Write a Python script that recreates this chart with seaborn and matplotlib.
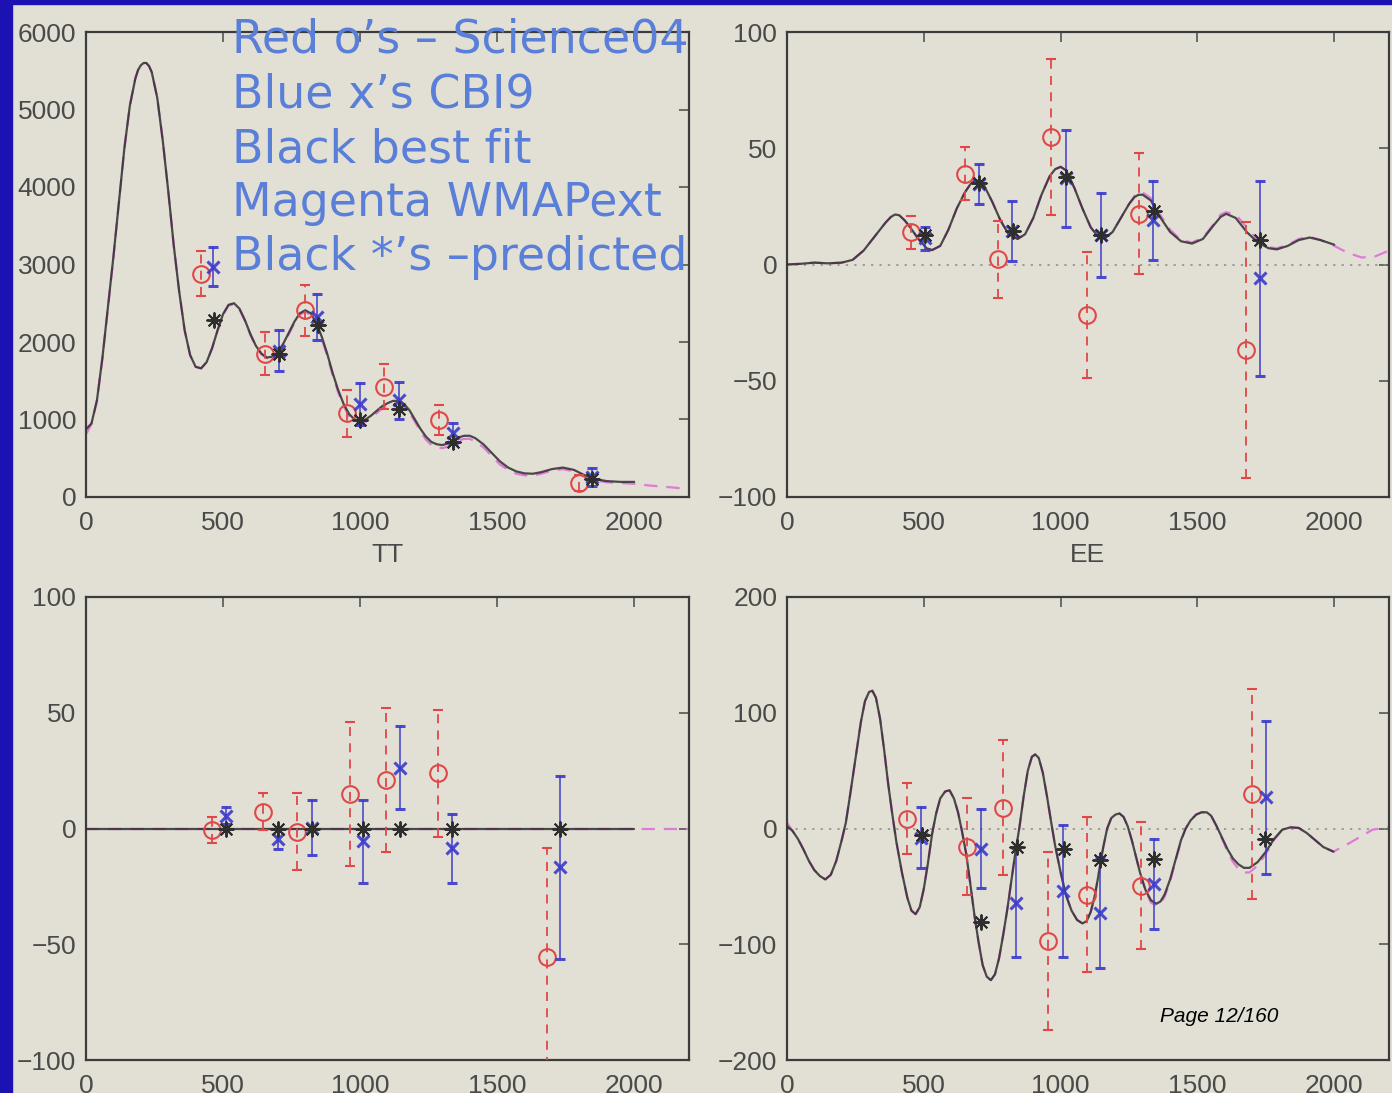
import numpy as np
import pandas as pd
import matplotlib
matplotlib.use("Agg")
import matplotlib.pyplot as plt
from matplotlib.patches import Rectangle
import seaborn as sns

# ---------------- data ----------------
# TT theory curves
tt_fit_ell = [2, 20, 40, 60, 80, 100, 120, 140, 160, 180, 190, 200, 210, 220, 230, 240, 260, 280, 300, 320, 340,
              360, 380, 400, 420, 440, 460, 480, 500, 520, 540, 560, 580, 600, 620, 640, 660, 680, 700, 720, 740,
              760, 780, 800, 820, 840, 860, 880, 900, 920, 940, 960, 980, 1000, 1020, 1040, 1060, 1080, 1100,
              1120, 1140, 1160, 1180, 1200, 1220, 1240, 1260, 1280, 1300, 1320, 1340, 1360, 1380, 1400, 1420,
              1450, 1480, 1510, 1540, 1570, 1600, 1630, 1660, 1700, 1740, 1780, 1820, 1860, 1900, 1950, 2000]
tt_fit_val = [880, 950, 1250, 1800, 2450, 3100, 3800, 4500, 5050, 5400, 5510, 5570, 5600, 5600, 5560, 5480,
              5150, 4600, 3950, 3250, 2650, 2150, 1830, 1680, 1660, 1740, 1920, 2150, 2360, 2480, 2500, 2430,
              2280, 2100, 1950, 1850, 1800, 1810, 1870, 1980, 2120, 2260, 2370, 2410, 2370, 2250, 2070, 1850,
              1600, 1380, 1200, 1070, 1000, 980, 1000, 1050, 1110, 1170, 1210, 1240, 1240, 1200, 1120, 1000,
              880, 780, 710, 680, 670, 690, 730, 770, 790, 790, 760, 680, 570, 460, 380, 330, 305, 300, 320,
              360, 380, 350, 280, 230, 205, 195, 195]
tt_wmap_ell = [2, 20, 40, 60, 80, 100, 120, 140, 160, 180, 190, 200, 210, 220, 230, 240, 260, 280, 300, 320, 340,
               360, 380, 400, 420, 440, 460, 480, 500, 520, 540, 560, 580, 600, 620, 640, 660, 680, 700, 720, 740,
               760, 780, 800, 820, 840, 860, 880, 900, 920, 940, 960, 980, 1000, 1020, 1040, 1060, 1080, 1100,
               1120, 1140, 1160, 1180, 1200, 1220, 1240, 1260, 1280, 1300, 1320, 1340, 1360, 1380, 1400, 1420,
               1450, 1480, 1510, 1540, 1570, 1600, 1630, 1660, 1700, 1740, 1780, 1820, 1860, 1900, 1950, 2000,
               2050, 2100, 2150, 2200]
tt_wmap_val = [820, 940, 1240, 1790, 2440, 3090, 3800, 4500, 5050, 5400, 5510, 5570, 5600, 5600, 5560, 5480,
               5150, 4600, 3950, 3250, 2650, 2150, 1830, 1680, 1660, 1740, 1920, 2150, 2350, 2470, 2490, 2420,
               2270, 2090, 1940, 1840, 1790, 1800, 1860, 1960, 2100, 2240, 2350, 2390, 2350, 2230, 2040, 1820,
               1570, 1350, 1170, 1040, 970, 950, 970, 1020, 1080, 1140, 1180, 1210, 1210, 1170, 1090, 970, 850,
               740, 670, 640, 630, 650, 690, 730, 750, 750, 720, 640, 530, 420, 350, 300, 280, 275, 300, 340,
               360, 330, 265, 215, 190, 180, 170, 150, 135, 120, 100]

tt_red_ell = [420, 653, 798, 954, 1087, 1289, 1798]
tt_red_val = [2880, 1850, 2410, 1080, 1420, 990, 180]
tt_red_err = [290, 280, 330, 300, 290, 195, 100]
tt_blue_ell = [465, 704, 841, 1000, 1142, 1340, 1846]
tt_blue_val = [2970, 1890, 2320, 1200, 1250, 820, 260]
tt_blue_err = [250, 270, 300, 270, 240, 140, 120]
tt_pred_ell = [468, 704, 845, 1000, 1142, 1340, 1846]
tt_pred_val = [2290, 1850, 2215, 990, 1140, 710, 237]

# EE
ee_fit_ell = [0, 50, 100, 150, 200, 240, 280, 320, 360, 380, 395, 410, 430, 450, 480, 510, 530, 560, 590, 620,
              650, 670, 685, 700, 720, 750, 780, 810, 843, 870, 900, 930, 960, 980, 1000, 1020, 1050, 1080, 1110,
              1140, 1160, 1190, 1220, 1250, 1270, 1285, 1300, 1330, 1360, 1400, 1440, 1480, 1520, 1560, 1585,
              1605, 1640, 1680, 1720, 1760, 1790, 1830, 1870, 1910, 1950, 2000]
ee_fit_val = [0, 0.3, 0.8, 0.5, 0.8, 2, 6, 12, 18, 20.5, 21.5, 21.2, 19, 16, 11, 7, 6.2, 8, 15, 24, 31, 34.5,
              36, 36, 34, 27, 19, 13, 11, 13, 20, 30, 38, 41, 42, 40.5, 33, 24, 16, 11.5, 11.2, 14, 20, 26, 29,
              30, 30, 27.5, 21, 14, 10, 9, 11, 17, 20.5, 21.8, 20, 14, 9.5, 7, 6.5, 8, 10.5, 11.6, 10.5, 8.5]
ee_wmap_ell = [0, 50, 100, 150, 200, 240, 280, 320, 360, 380, 395, 410, 430, 450, 480, 510, 530, 560, 590, 620,
               650, 670, 685, 700, 720, 750, 780, 810, 843, 870, 900, 930, 960, 980, 1000, 1020, 1050, 1080, 1110,
               1140, 1160, 1190, 1220, 1250, 1270, 1285, 1300, 1330, 1360, 1400, 1440, 1480, 1520, 1560, 1585,
               1605, 1640, 1680, 1720, 1760, 1790, 1830, 1870, 1910, 1950, 2000, 2050, 2100, 2150, 2200]
ee_wmap_val = [0, 0.3, 0.8, 0.5, 0.8, 2, 6, 12, 18, 20.5, 21.5, 21.2, 19, 16, 11, 7, 6.2, 8, 15, 24, 31, 34.5,
               36, 36, 34, 27, 19, 13, 11, 13, 20, 30, 38, 41, 42, 40.5, 33, 24, 16, 11.5, 11.2, 14, 20, 26, 29.5,
               31, 31, 28.5, 22, 15, 10.5, 9.5, 11.5, 17.5, 21.5, 22.5, 21.5, 16, 10.5, 7.5, 7, 8.5, 11, 12,
               10.5, 8, 5, 3, 3.5, 6]

ee_red_ell = [452, 651, 772, 965, 1097, 1285, 1677]
ee_red_val = [13.8, 39.1, 2.3, 54.9, -21.8, 21.9, -36.8]
ee_red_err = [7, 11.5, 16.5, 33.5, 27, 26, 55]
ee_blue_ell = [504, 701, 822, 1019, 1147, 1338, 1727]
ee_blue_val = [11.2, 34.8, 14.3, 37, 12.6, 19, -6]
ee_blue_err = [5, 8.6, 13, 21, 18, 17, 42]
ee_pred_ell = [504, 701, 825, 1019, 1147, 1343, 1727]
ee_pred_val = [12.6, 35.1, 14.3, 37.7, 12.6, 23.1, 10.5]

# TB (zero model)
tb_fit_ell = [0, 2000]
tb_fit_val = [0, 0]
tb_wmap_ell = [0, 2200]
tb_wmap_val = [0, 0]
tb_red_ell = [459, 645, 769, 964, 1094, 1284, 1681]
tb_red_val = [-0.6, 7.3, -1.3, 14.8, 21, 23.9, -55.5]
tb_red_err = [5.5, 8, 16.5, 31, 31, 27.5, 47]
tb_blue_ell = [509, 700, 825, 1011, 1147, 1335, 1731]
tb_blue_val = [5.5, -4.6, 0.4, -5.6, 26.3, -8.6, -16.8]
tb_blue_err = [3.6, 4.3, 11.7, 18, 18, 15, 39.5]
tb_pred_ell = [509, 700, 825, 1011, 1147, 1335, 1731]
tb_pred_val = [0, 0, 0, 0, 0, 0, 0]

# TE
te_fit_ell = [0, 20, 40, 60, 80, 100, 120, 140, 160, 180, 200, 215, 230, 250, 270, 285, 300, 312, 325, 340, 355,
              370, 385, 400, 420, 440, 455, 470, 485, 500, 515, 530, 545, 560, 578, 594, 610, 625, 640, 655, 670,
              685, 700, 715, 730, 745, 760, 775, 790, 805, 820, 835, 850, 865, 880, 895, 907, 920, 935, 950, 965,
              980, 1000, 1020, 1040, 1060, 1080, 1095, 1110, 1125, 1140, 1155, 1170, 1185, 1200, 1215, 1230,
              1245, 1260, 1275, 1290, 1310, 1330, 1350, 1365, 1380, 1400, 1420, 1440, 1457, 1475, 1495, 1515,
              1534, 1550, 1570, 1590, 1610, 1630, 1650, 1670, 1690, 1720, 1750, 1780, 1810, 1840, 1870, 1900,
              1930, 1960, 1997]
te_fit_val = [2, -2, -9, -18, -28, -36, -41, -44, -40, -28, -10, 5, 28, 60, 92, 110, 118, 119, 113, 95, 68, 38,
              12, -12, -38, -60, -71, -74, -68, -52, -30, -5, 13, 26, 32, 33, 26, 14, -3, -22, -48, -75, -98,
              -118, -128, -131, -126, -112, -92, -70, -45, -20, 2, 28, 50, 62, 64, 61, 48, 28, 6, -15, -38, -58,
              -71, -79, -82, -80, -72, -58, -38, -17, 0, 9, 12, 13, 10, 2, -10, -24, -38, -53, -62, -65, -63,
              -57, -44, -27, -10, 0, 7, 12, 14, 14, 11, 2, -8, -18, -26, -31, -34, -34, -29, -20, -9, -1, 1,
              0.5, -4, -10, -16, -20]
te_wmap_ell = [0, 20, 40, 60, 80, 100, 120, 140, 160, 180, 200, 215, 230, 250, 270, 285, 300, 312, 325, 340, 355,
               370, 385, 400, 420, 440, 455, 470, 485, 500, 515, 530, 545, 560, 578, 594, 610, 625, 640, 655, 670,
               685, 700, 715, 730, 745, 760, 775, 790, 805, 820, 835, 850, 865, 880, 895, 907, 920, 935, 950, 965,
               980, 1000, 1020, 1040, 1060, 1080, 1095, 1110, 1125, 1140, 1155, 1170, 1185, 1200, 1215, 1230,
               1245, 1260, 1275, 1290, 1310, 1330, 1350, 1365, 1380, 1400, 1420, 1440, 1457, 1475, 1495, 1515,
               1534, 1550, 1570, 1590, 1610, 1630, 1650, 1670, 1690, 1720, 1750, 1780, 1810, 1840, 1870, 1900,
               1930, 1960, 1997, 2060, 2140, 2200]
te_wmap_val = [5, -2, -9, -18, -28, -36, -41, -44, -40, -28, -10, 5, 28, 60, 92, 110, 118, 119, 113, 95, 68, 38,
               12, -12, -38, -60, -71, -74, -68, -52, -30, -5, 13, 26, 32, 33, 26, 14, -3, -22, -48, -75, -98,
               -118, -128, -131, -126, -112, -92, -70, -45, -20, 2, 28, 50, 62, 64, 61, 48, 28, 6, -15, -38, -58,
               -71, -79, -82, -80, -72, -58, -38, -17, 0, 9, 12, 13, 10, 2, -10, -24, -38, -54, -64, -67, -65,
               -59, -46, -28, -11, 0, 7, 12, 14, 14, 11, 2, -9, -20, -29, -35, -38, -38, -32, -22, -10, -1, 1,
               0.5, -4, -10, -16, -20, -12, -1, 1]
te_red_ell = [437, 658, 789, 955, 1097, 1292, 1701]
te_red_val = [8.6, -15.6, 18.1, -97, -57.3, -49.5, 29.7]
te_red_err = [31, 42, 58, 77, 67, 55, 91]
te_blue_ell = [490, 708, 836, 1007, 1145, 1342, 1752]
te_blue_val = [-7.8, -17.3, -64, -53.9, -72.6, -48, 26.8]
te_blue_err = [26.5, 34.5, 47, 57, 48, 39, 66]
te_pred_ell = [494, 708, 841, 1011, 1145, 1342, 1748]
te_pred_val = [-5.8, -80.6, -16.4, -17.3, -27.4, -26.5, -9.2]

legend_lines = ["Red o\u2019s \u2013 Science04", "Blue x\u2019s CBI9", "Black best fit",
                "Magenta WMAPext", "Black *\u2019s \u2013predicted"]
x_ticks = [0, 500, 1000, 1500, 2000]
tt_yticks = [0, 1000, 2000, 3000, 4000, 5000, 6000]
ee_yticks = [-100, -50, 0, 50, 100]
tb_yticks = [-100, -50, 0, 50, 100]
te_yticks = [-200, -100, 0, 100, 200]

# ---------------- style ----------------
BG = "#e2e0d5"
RED = "#e04848"
BLUE = "#3a3acc"
BLACK = "#2e2e2e"
MAG = "#e07ad8"
TXT = "#4a4a4a"

sns.set_theme(style="white")
plt.rcParams["font.family"] = ["Liberation Sans", "DejaVu Sans"]
plt.rcParams["axes.unicode_minus"] = True
plt.rcParams["lines.solid_joinstyle"] = "round"

fig = plt.figure(figsize=(13.92, 10.93), dpi=100, facecolor=BG)
W, H = 1392, 1093


def add_ax(x0, y0, x1, y1):
    return fig.add_axes([x0 / W, 1 - y1 / H, (x1 - x0) / W, (y1 - y0) / H])


ax_tt = add_ax(86, 32, 689, 497)
ax_ee = add_ax(787, 32, 1389, 497)
ax_tb = add_ax(86, 597, 689, 1060)
ax_te = add_ax(787, 597, 1389, 1060)


def draw_panel(ax, wmap_ell, wmap_val, fit_ell, fit_val, red, blue, pred, ylim, yticks, zero_dotted):
    ax.set_facecolor(BG)
    if zero_dotted:
        ax.axhline(0, color="#8a8a8a", lw=1.1, ls=(0, (1.5, 4)), zorder=1)
    sns.lineplot(x=wmap_ell, y=wmap_val, ax=ax, color=MAG, lw=1.6, linestyle=(0, (6, 4)),
                 sort=False, estimator=None, zorder=2)
    sns.lineplot(x=fit_ell, y=fit_val, ax=ax, color=BLACK, lw=1.6, sort=False, estimator=None,
                 alpha=0.85, zorder=3)
    rl = ax.errorbar(red[0], red[1], yerr=red[2], fmt="o", ms=12, mfc="none", mec=RED, mew=1.5,
                     ecolor=RED, elinewidth=1.3, capsize=3.5, capthick=1.3, zorder=4)
    rl[2][0].set_linestyle((0, (5, 4)))
    ax.errorbar(blue[0], blue[1], yerr=blue[2], fmt="x", ms=8, mew=2.2, color=BLUE,
                ecolor=BLUE, elinewidth=1.2, capsize=3.5, capthick=1.2, zorder=5, alpha=0.9)
    sns.scatterplot(x=pred[0], y=pred[1], ax=ax, marker=(8, 2, 0), s=110, color=BLACK,
                    linewidth=1.4, edgecolor=BLACK, zorder=6)
    ax.set_xlim(0, 2200)
    ax.set_ylim(*ylim)
    ax.set_xticks(x_ticks)
    ax.set_yticks(yticks)
    ax.tick_params(direction="in", length=7, width=1.2, top=True, right=True, color="#555555",
                   labelsize=19, labelcolor=TXT, pad=7)
    ax.tick_params(axis="x", pad=10)
    for s in ax.spines.values():
        s.set_color("#3c3c3c")
        s.set_linewidth(1.6)
    ax.set_xlabel("")
    ax.set_ylabel("")


draw_panel(ax_tt, tt_wmap_ell, tt_wmap_val, tt_fit_ell, tt_fit_val,
           (tt_red_ell, tt_red_val, tt_red_err), (tt_blue_ell, tt_blue_val, tt_blue_err),
           (tt_pred_ell, tt_pred_val), (0, 6000), tt_yticks, False)
draw_panel(ax_ee, ee_wmap_ell, ee_wmap_val, ee_fit_ell, ee_fit_val,
           (ee_red_ell, ee_red_val, ee_red_err), (ee_blue_ell, ee_blue_val, ee_blue_err),
           (ee_pred_ell, ee_pred_val), (-100, 100), ee_yticks, True)
draw_panel(ax_tb, tb_wmap_ell, tb_wmap_val, tb_fit_ell, tb_fit_val,
           (tb_red_ell, tb_red_val, tb_red_err), (tb_blue_ell, tb_blue_val, tb_blue_err),
           (tb_pred_ell, tb_pred_val), (-100, 100), tb_yticks, False)
draw_panel(ax_te, te_wmap_ell, te_wmap_val, te_fit_ell, te_fit_val,
           (te_red_ell, te_red_val, te_red_err), (te_blue_ell, te_blue_val, te_blue_err),
           (te_pred_ell, te_pred_val), (-200, 200), te_yticks, True)

ax_tt.set_xlabel("TT", fontsize=19, color=TXT, labelpad=6)
ax_ee.set_xlabel("EE", fontsize=19, color=TXT, labelpad=6)

# overlay legend text
ys = [40, 95, 150, 204, 258]
for t, yy in zip(legend_lines, ys):
    fig.text(232 / W, 1 - yy / H, t, fontsize=33, color="#5a7fd8", va="center", ha="left",
             family=["DejaVu Sans"], zorder=10)

fig.text(1160 / W, 1 - 1017 / H, "Page 12/160", fontsize=15, style="italic", color="black",
         va="center", ha="left")

# slide border (blue)
fig.patches.append(Rectangle((0, 0), 12 / W, 1, transform=fig.transFigure, color="#1c12b4", zorder=20))
fig.patches.append(Rectangle((0, 1 - 4 / H), 1, 4 / H, transform=fig.transFigure, color="#1c12b4", zorder=20))

fig.savefig("out.png", dpi=100, facecolor=BG)
